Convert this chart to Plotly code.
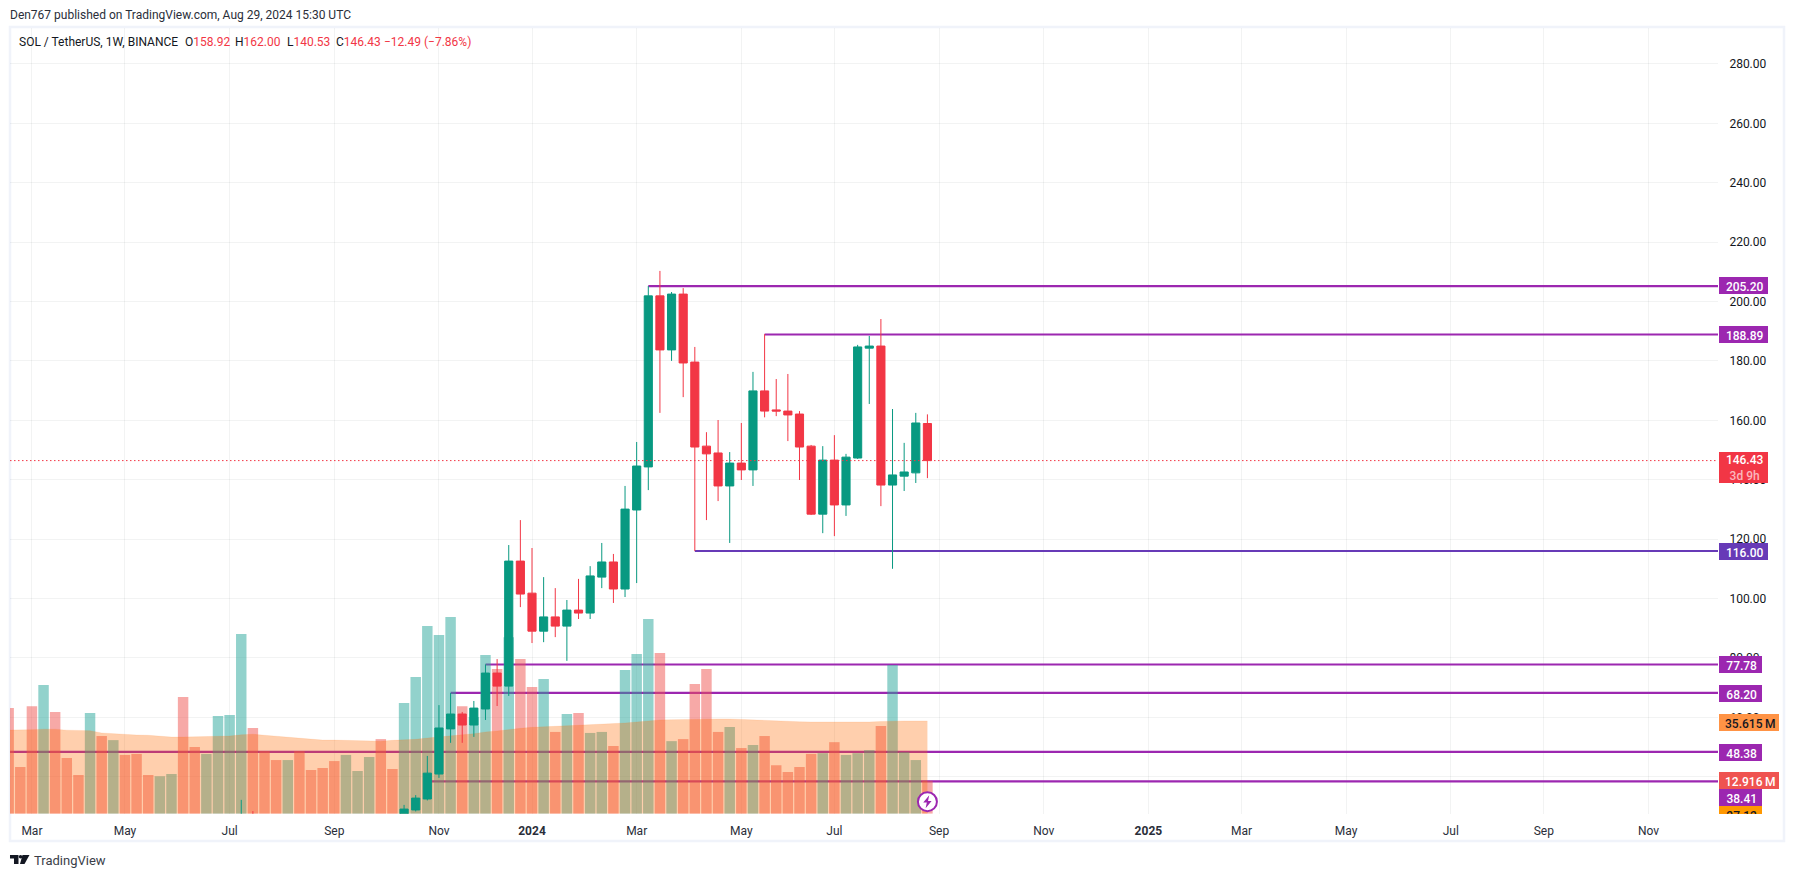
import pandas as pd
import plotly.graph_objects as go

# ---------- data ----------
week_zero = pd.Timestamp("2024-01-01")

vol_weeks = list(range(-45, 35))
vol_values = [41.4, 18.3, 42.1, 50.4, 39.8, 21.8, 15.1, 39.4, 30.4, 28.8, 23.0, 23.4, 15.1, 14.7, 15.5,
              45.7, 26.1, 23.4, 38.2, 38.6, 70.3, 33.5, 24.5, 21.0, 21.0, 24.5, 17.1, 17.9, 20.6, 23.0,
              16.7, 22.2, 29.2, 17.5, 43.3, 53.5, 73.5, 69.9, 77.0, 42.1, 37.8, 62.1, 56.6, 69.1, 60.5,
              49.6, 52.7, 32.0, 39.0, 39.4, 31.6, 32.0, 26.5, 56.2, 62.5, 76.2, 62.9, 28.4, 29.2, 50.8,
              56.6, 32.0, 33.9, 25.7, 26.9, 30.4, 19.0, 16.3, 18.3, 23.4, 23.7, 28.0, 23.0, 23.7, 24.9,
              34.3, 58.2, 24.1, 21.0, 12.916]
vol_up = [0, 0, 0, 1, 0, 0, 0, 1, 0, 1, 0, 0, 0, 1, 1,
          0, 0, 1, 1, 1, 1, 0, 0, 0, 1, 0, 0, 0, 0, 1,
          1, 1, 0, 0, 1, 1, 1, 1, 1, 0, 1, 1, 0, 1, 0,
          0, 1, 0, 1, 0, 1, 1, 0, 1, 1, 1, 0, 1, 0, 0,
          0, 0, 1, 0, 1, 0, 0, 0, 0, 0, 1, 0, 1, 1, 1,
          0, 1, 1, 1, 0]
vol_ma = [32.7, 32.7, 32.9, 33.1, 33.1, 32.7, 32.5, 32.5, 31.6, 31.3, 31.1, 30.8, 30.7, 30.3, 30.0,
          30.0, 30.1, 30.3, 30.3, 30.4, 30.9, 31.1, 30.7, 30.3, 29.9, 29.4, 29.1, 28.8, 28.8, 28.7,
          28.6, 28.4, 28.4, 28.7, 28.8, 29.1, 29.6, 30.1, 30.5, 30.9, 31.3, 32.0, 32.4, 33.0, 33.4,
          33.8, 34.1, 34.2, 34.4, 34.6, 34.7, 35.0, 35.1, 35.5, 35.9, 36.4, 36.7, 36.8, 36.9, 37.1,
          37.1, 37.1, 37.1, 36.9, 36.7, 36.4, 36.3, 36.1, 36.0, 35.9, 35.9, 35.7, 35.7, 35.9, 35.9,
          36.1, 36.3, 36.3, 36.3, 36.3]

candle_weeks = [-25, -24] + list(range(-11, 35))
c_open = [25.0, 26.0, 24.0, 28.8, 32.5, 40.9, 56.1, 61.1, 57.4, 62.8, 74.9, 70.5, 112.6, 101.8,
          89.0, 93.8, 90.7, 96.1, 95.1, 107.2, 112.3, 103.2, 129.8, 144.3, 201.9, 183.7, 202.5,
          179.6, 151.3, 149.0, 137.9, 145.6, 143.3, 169.9, 163.5, 163.1, 162.1, 151.3, 128.4,
          146.6, 131.5, 147.3, 184.3, 185.0, 138.2, 141.2, 142.3, 158.92]
c_high = [32.2, 28.4, 30.5, 33.8, 47.0, 64.1, 68.2, 61.8, 65.5, 77.8, 79.6, 118.0, 126.4, 117.0,
          107.2, 103.5, 99.5, 106.6, 110.9, 118.7, 115.0, 137.9, 152.7, 205.2, 210.3, 203.2, 204.5,
          184.7, 156.0, 160.1, 149.3, 159.1, 176.3, 189.0, 173.9, 175.6, 163.1, 151.7, 151.3,
          155.0, 148.7, 185.4, 188.4, 194.1, 163.8, 152.4, 162.5, 162.0]
c_low = [22.0, 23.0, 23.0, 28.3, 32.0, 39.6, 51.4, 51.4, 53.4, 59.1, 63.8, 67.2, 97.1, 85.0,
         85.3, 87.0, 79.0, 93.1, 93.1, 103.5, 98.5, 100.5, 105.2, 136.5, 162.5, 180.0, 167.8,
         116.0, 126.4, 132.8, 118.7, 139.9, 137.9, 161.0, 161.4, 153.0, 139.9, 128.1, 122.0,
         121.0, 127.8, 147.0, 165.5, 131.1, 110.0, 136.2, 138.9, 140.53]
c_close = [26.0, 24.5, 29.1, 32.8, 41.2, 56.4, 61.1, 57.4, 63.1, 74.9, 70.5, 112.6, 101.5, 89.0,
           93.8, 90.7, 96.1, 95.1, 107.6, 112.3, 103.2, 130.1, 144.6, 201.9, 183.7, 202.5, 179.3,
           151.0, 148.7, 137.9, 145.6, 143.3, 169.9, 163.1, 163.1, 161.8, 151.0, 128.4, 146.6,
           131.5, 147.6, 184.7, 185.0, 138.2, 141.6, 142.6, 159.1, 146.43]

level_values = [205.20, 188.89, 116.00, 77.78, 68.20, 48.38, 38.41]
level_start_week = [10, 20, 14, -4, -7, -46, -9]
level_colors = ["#9c27b0", "#9c27b0", "#673ab7", "#9c27b0", "#9c27b0", "#9c27b0", "#9c27b0"]

price_ticks = [40, 60, 80, 100, 120, 140, 160, 180, 200, 220, 240, 260, 280]
time_tick_weeks = [-43, -35, -26, -17, -8, 0, 9, 18, 26, 35, 44, 53, 61, 70, 79, 87, 96]
time_tick_text = ["Mar", "May", "Jul", "Sep", "Nov", "<b>2024</b>", "Mar", "May", "Jul", "Sep", "Nov",
                  "<b>2025</b>", "Mar", "May", "Jul", "Sep", "Nov"]

# ---------- layout geometry (pixels of the 1794x877 page) ----------
W, H = 1794, 877
PANE_L, PANE_R, PANE_T, PANE_B = 10, 1718, 28, 813.7
PX_WEEK, X_WEEK0 = 11.63, 532.0
Y200, PX_UNIT = 301.5, 2.97
VOL_PX = 2.555


def week_date(k):
    return week_zero + pd.Timedelta(days=7 * k)


def px_date(x):
    return week_zero + pd.Timedelta(days=(x - X_WEEK0) / PX_WEEK * 7)


def fx(x):
    return x / W


def fy(y):
    return 1 - y / H


price_range = [200 - (PANE_B - Y200) / PX_UNIT, 200 + (Y200 - PANE_T) / PX_UNIT]
vol_range = [0, (PANE_B - PANE_T) / VOL_PX]
x_range = [px_date(PANE_L), px_date(PANE_R)]

GREEN, RED = "#089981", "#f23645"
TXT = "#131722"
FONT = "Roboto"

fig = go.Figure()

# level lines: under the volume
for v, k, c in zip(level_values, level_start_week, level_colors):
    fig.add_trace(go.Scatter(x=[week_date(k), x_range[1]], y=[v, v], mode="lines", yaxis="y",
                             line=dict(color=c, width=2.2), hoverinfo="skip", showlegend=False))

# volume
vx = [week_date(k) for k in vol_weeks]
fig.add_trace(go.Bar(x=vx, y=vol_values, yaxis="y2", showlegend=False, hoverinfo="skip",
                     marker=dict(color=["rgba(38,166,154,0.5)" if u else "rgba(239,83,80,0.5)" for u in vol_up],
                                 line_width=0)))
fig.add_trace(go.Scatter(x=vx, y=vol_ma, yaxis="y2", mode="lines", fill="tozeroy",
                         fillcolor="rgba(255,105,0,0.32)", line=dict(color="rgba(255,105,0,0.1)", width=1),
                         hoverinfo="skip", showlegend=False))

# candles
fig.add_trace(go.Candlestick(x=[week_date(k) for k in candle_weeks], open=c_open, high=c_high, low=c_low,
                             close=c_close, yaxis="y3", whiskerwidth=0, hoverinfo="skip", showlegend=False,
                             increasing=dict(line=dict(color=GREEN, width=1), fillcolor=GREEN),
                             decreasing=dict(line=dict(color=RED, width=1), fillcolor=RED)))

shapes = [
    # frame
    dict(type="rect", xref="paper", yref="paper", x0=fx(10), x1=fx(1784), y0=fy(27), y1=fy(841),
         line=dict(color="#f0f3fa", width=2.5), layer="below"),
    # last price line
    dict(type="line", xref="x domain", yref="y3", x0=0, x1=1, y0=c_close[-1], y1=c_close[-1],
         line=dict(color=RED, width=1, dash="1.5px,2.5px"), layer="above"),
]

# circle marker with a lightning sign
icon_x = week_date(vol_weeks[-1])
icon_y = 200 - (801.7 - Y200) / PX_UNIT
shapes.append(dict(type="circle", xref="x", yref="y3", xsizemode="pixel", ysizemode="pixel",
                   xanchor=icon_x, yanchor=icon_y, x0=-9.5, x1=9.5, y0=-9.5, y1=9.5,
                   fillcolor="white", line=dict(color="#9c27b0", width=2), layer="above"))
shapes.append(dict(type="path", xref="x", yref="y3", xsizemode="pixel", ysizemode="pixel",
                   xanchor=icon_x, yanchor=icon_y,
                   path="M 1.8 6.5 L -4.2 -0.8 L -0.6 -0.8 L -1.8 -6.5 L 4.2 0.8 L 0.6 0.8 Z",
                   fillcolor="#9c27b0", line=dict(width=0), layer="above"))

# TradingView logo
def poly(pts):
    return "M " + " L ".join(f"{fx(x):.5f} {fy(y):.5f}" for x, y in pts) + " Z"


for pts in (
    [(10, 855), (18.5, 855), (18.5, 864), (14, 864), (14, 858.6), (10, 858.6)],
    [(22.5, 855), (29.5, 855), (24.5, 864), (20, 864)],
):
    shapes.append(dict(type="path", xref="paper", yref="paper", path=poly(pts),
                       fillcolor="#131722", line=dict(width=0)))
shapes.append(dict(type="circle", xref="paper", yref="paper", x0=fx(18.8), x1=fx(22.3), y0=fy(858.6), y1=fy(855.1),
                   fillcolor="#131722", line=dict(width=0)))

ann = []


def text_at(x, y, text, color=TXT, size=12):
    ann.append(dict(xref="paper", yref="paper", x=fx(x), y=fy(y), xanchor="left", yanchor="middle",
                    text=text, showarrow=False, font=dict(family=FONT, size=size, color=color)))


text_at(8, 15, "Den767 published on TradingView.com, Aug 29, 2024 15:30 UTC", "#2a2e39")
text_at(16.5, 41.5, "SOL / TetherUS, 1W, BINANCE", TXT)
for x, letter, val in ((182.5, "O", c_open[-1]), (233, "H", c_high[-1]), (284.5, "L", c_low[-1]), (333.5, "C", c_close[-1])):
    text_at(x, 41.5, f'{letter}<span style="color:{RED}">{val:.2f}</span>', TXT)
text_at(382, 41.5, "\u221212.49 (\u22127.86%)", RED)
text_at(32, 860, "TradingView", "#3a3e48", 13)

LEAD = "\u2009"


def tag(y, text, bg, color="white", width=43, height=17):
    ann.append(dict(xref="paper", yref="paper", x=fx(1719), y=fy(y), xanchor="left", yanchor="middle",
                    text=LEAD + text, showarrow=False, bgcolor=bg, width=width, height=height, borderpad=0,
                    borderwidth=0, align="center", valign="bottom",
                    font=dict(family=FONT, size=12, color=color, weight=500)))


tag(285.7, f"{level_values[0]:.2f}", "#9c27b0", width=49)
tag(334.5, f"{level_values[1]:.2f}", "#9c27b0", width=49)
ann.append(dict(xref="paper", yref="paper", x=fx(1719), y=fy(467.3), xanchor="left", yanchor="middle",
                text=f'{LEAD}{c_close[-1]:.2f}<br>{LEAD}<span style="color:#fbb6bd">3d 9h</span>', showarrow=False,
                bgcolor=RED, width=49, height=31, borderpad=0, borderwidth=0, align="center", valign="bottom",
                font=dict(family=FONT, size=12, color="white", weight=500)))
tag(551.5, f"{level_values[2]:.2f}", "#673ab7", width=49)
tag(664.5, f"{level_values[3]:.2f}", "#9c27b0")
tag(693, f"{level_values[4]:.2f}", "#9c27b0")
tag(722.5, "35.615\u2009M", "#ff9345", TXT, width=60)
tag(752, f"{level_values[5]:.2f}", "#9c27b0")
tag(780.5, "12.916\u2009M", "#ef5350", width=60)
tag(797.5, f"{level_values[6]:.2f}", "#9c27b0")
tag(814, "27.12", "#ff9800", TXT)
# the pane cuts the last tag off at its lower edge
ann.append(dict(xref="paper", yref="paper", x=fx(1719), y=fy(813.9), xanchor="left", yanchor="top",
                text=" ", showarrow=False, bgcolor="white", width=60, height=10, borderpad=0, borderwidth=0))

axis_font = dict(family=FONT, size=12, color=TXT)
GRID = "rgba(42,46,57,0.06)"

fig.update_layout(
    width=W, height=H, margin=dict(l=0, r=0, t=0, b=0), autosize=False,
    paper_bgcolor="white", plot_bgcolor="white", showlegend=False, hovermode=False,
    bargap=0.1, boxgap=0.3, boxgroupgap=0,
    shapes=shapes, annotations=ann,
    xaxis=dict(domain=[fx(PANE_L), fx(PANE_R)], range=x_range, type="date", anchor="y",
               tickmode="array", tickvals=[week_date(k) for k in time_tick_weeks], ticktext=time_tick_text,
               tickfont=dict(family=FONT, size=12, color="#2a2e39"), showgrid=True, gridcolor=GRID, gridwidth=1,
               ticks="outside", ticklen=6, tickcolor="rgba(0,0,0,0)", showline=False, zeroline=False,
               rangeslider=dict(visible=False), tickangle=0),
    yaxis=dict(domain=[fy(PANE_B), fy(PANE_T)], range=price_range, side="right", anchor="x",
               tickmode="array", tickvals=price_ticks, tickformat=".2f", tickfont=axis_font,
               showgrid=True, gridcolor=GRID, gridwidth=1, zeroline=False, showline=False,
               ticks="outside", ticklen=8, tickcolor="rgba(0,0,0,0)"),
    yaxis2=dict(domain=[fy(PANE_B), fy(PANE_T)], range=vol_range, overlaying="y", anchor="x", side="right",
                visible=False, showgrid=False, zeroline=False),
    yaxis3=dict(domain=[fy(PANE_B), fy(PANE_T)], range=price_range, overlaying="y", anchor="x", side="right",
                visible=False, showgrid=False, zeroline=False),
)

fig.write_html("out.html", config={"displayModeBar": False},
               post_script="document.body.style.margin='0';document.body.style.overflow='hidden';")
